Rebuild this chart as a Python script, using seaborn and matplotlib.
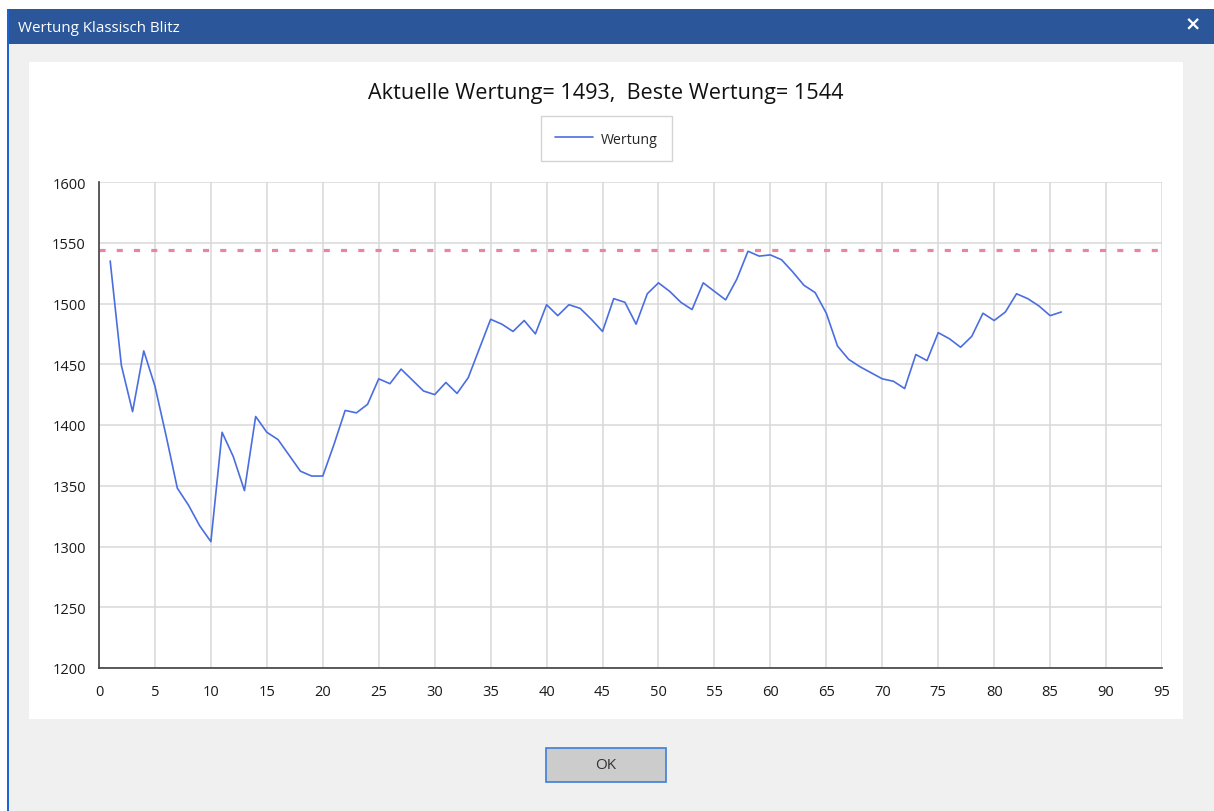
import numpy as np
import pandas as pd
import seaborn as sns
import matplotlib
matplotlib.use("Agg")
import matplotlib.pyplot as plt
from matplotlib.patches import Rectangle

# ---------------- data ----------------
games = list(range(1, 87))
ratings = [1535, 1449, 1411, 1461, 1432, 1391, 1348, 1334, 1317, 1304,
           1394, 1374, 1346, 1407, 1394, 1388, 1375, 1362, 1358, 1358,
           1384, 1412, 1410, 1417, 1438, 1434, 1446, 1437, 1428, 1425,
           1435, 1426, 1439, 1463, 1487, 1483, 1477, 1486, 1475, 1499,
           1490, 1499, 1496, 1487, 1477, 1504, 1501, 1483, 1508, 1517,
           1510, 1501, 1495, 1517, 1510, 1503, 1520, 1543, 1539, 1540,
           1536, 1526, 1515, 1509, 1492, 1465, 1454, 1448, 1443, 1438,
           1436, 1430, 1458, 1453, 1476, 1471, 1464, 1473, 1492, 1486,
           1493, 1508, 1504, 1498, 1490, 1493]
current_rating = 1493
best_rating = 1544
window_title = "Wertung Klassisch Blitz"
series_label = "Wertung"
x_ticks = list(range(0, 96, 5))
y_ticks = list(range(1200, 1601, 50))

df = pd.DataFrame({"Partie": games, "Wertung": ratings})

# ---------------- styling ----------------
sns.set_style("white")
plt.rcParams["font.family"] = ["Open Sans", "DejaVu Sans"]

W, H = 1214, 812
fig = plt.figure(figsize=(W / 100, H / 100), dpi=100, facecolor="white")


def rect(x0, y0, x1, y1, fc, ec="none", lw=0, z=-10):
    r = Rectangle((x0 / W, 1 - y1 / H), (x1 - x0) / W, (y1 - y0) / H,
                  transform=fig.transFigure, facecolor=fc, edgecolor=ec,
                  linewidth=lw, zorder=z)
    fig.add_artist(r)
    return r


# window chrome
rect(8, 10, W, H, "#f0f0f0", z=-12)           # body
rect(8, 10, W, 45, "#2b579a", z=-11)          # title bar
rect(7, 10, 9, H, "#1c64d2", z=-11)           # left border
rect(29, 63, 1183, 720, "white", z=-10)       # chart panel
fig.text(18 / W, 1 - 29 / H, window_title, color="white", fontsize=10.9,
         ha="left", va="center")
fig.text(1193 / W, 1 - 25 / H, "\u00d7", color="white", fontsize=14,
         fontweight="bold", ha="center", va="center", family=["DejaVu Sans"])

# OK button
rect(546, 749, 666, 783, "#cccccc", ec="#3c7fd6", lw=1.2, z=-9)
fig.text(606 / W, 1 - 766 / H, "OK", color="#333333", fontsize=11,
         ha="center", va="center")

# axes
ax = fig.add_axes([99 / W, 1 - 669 / H, (1162 - 99) / W, (669 - 183) / H])
ax.set_facecolor("white")

sns.lineplot(data=df, x="Partie", y="Wertung", ax=ax, color="#4a6ee0",
             linewidth=1.2, label=series_label, zorder=3)
ax.axhline(best_rating, color="#e8869f", linewidth=2.3,
           linestyle=(0, (1.9, 3.5)), zorder=2)

ax.set_xlim(0, 95)
ax.set_ylim(1200, 1600)
ax.set_xticks(x_ticks)
ax.set_yticks(y_ticks)
ax.set_xlabel("")
ax.set_ylabel("")
ax.grid(True, color="#d9d9d9", linewidth=1.1, zorder=0)
ax.set_axisbelow(True)
for s in ["top", "right"]:
    ax.spines[s].set_visible(False)
for s in ["left", "bottom"]:
    ax.spines[s].set_color("#404040")
    ax.spines[s].set_linewidth(1.2)
ax.tick_params(axis="both", direction="out", length=5.5, width=1.1,
               color="#404040", labelsize=10.5, labelcolor="#1a1a1a")
ax.tick_params(axis="y", pad=4)
ax.tick_params(axis="x", pad=6)

# title
fig.text(606 / W, 1 - 94 / H,
         f"Aktuelle Wertung= {current_rating},  Beste Wertung= {best_rating}",
         fontsize=15.6, color="#111111", ha="center", va="center")

# legend
h, l = ax.get_legend_handles_labels()
leg = ax.legend(h, l, loc="center", bbox_to_anchor=(606.5 / W, 1 - 139.5 / H),
                bbox_transform=fig.transFigure, frameon=True, fancybox=False,
                edgecolor="#d4d4d4", facecolor="white", framealpha=1,
                fontsize=10.2, borderpad=1.0, handlelength=2.66,
                handleheight=1.5, handletextpad=0.6)
leg.get_frame().set_linewidth(1.0)

fig.savefig("out.png", dpi=100, facecolor="white")
